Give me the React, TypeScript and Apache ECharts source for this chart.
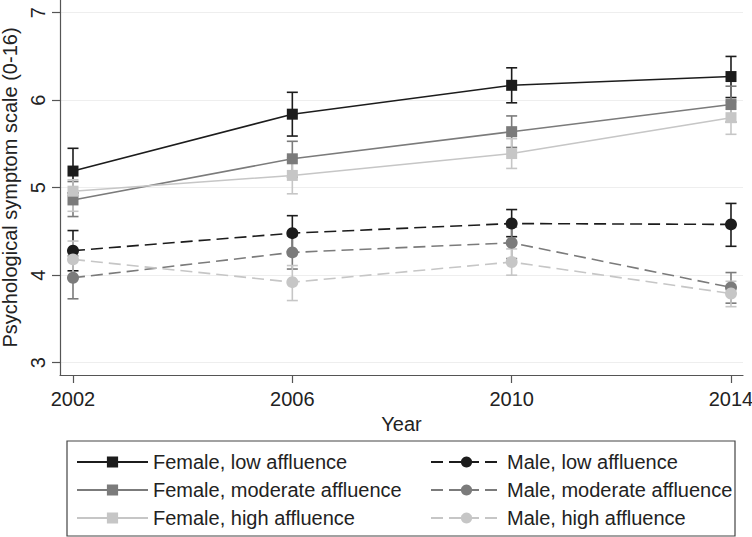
import React, { useEffect, useRef } from "react";
import * as echarts from "echarts";

const years = [2002, 2006, 2010, 2014];
const yTicks = [3, 4, 5, 6, 7];

const femaleLow = [5.19, 5.84, 6.17, 6.27];
const femaleLowLo = [4.94, 5.59, 5.97, 6.03];
const femaleLowHi = [5.45, 6.09, 6.37, 6.5];

const femaleMod = [4.86, 5.33, 5.64, 5.95];
const femaleModLo = [4.67, 5.12, 5.46, 5.75];
const femaleModHi = [5.07, 5.53, 5.82, 6.16];

const femaleHigh = [4.96, 5.14, 5.39, 5.8];
const femaleHighLo = [4.73, 4.93, 5.22, 5.61];
const femaleHighHi = [5.09, 5.34, 5.56, 5.98];

const maleLow = [4.28, 4.48, 4.59, 4.58];
const maleLowLo = [4.05, 4.27, 4.44, 4.33];
const maleLowHi = [4.51, 4.68, 4.75, 4.82];

const maleMod = [3.97, 4.26, 4.37, 3.86];
const maleModLo = [3.73, 4.07, 4.19, 3.68];
const maleModHi = [4.22, 4.45, 4.55, 4.03];

const maleHigh = [4.18, 3.92, 4.15, 3.79];
const maleHighLo = [3.96, 3.71, 4.0, 3.64];
const maleHighHi = [4.39, 4.11, 4.3, 3.93];

const names = [
  "Female, low affluence",
  "Female, moderate affluence",
  "Female, high affluence",
  "Male, low affluence",
  "Male, moderate affluence",
  "Male, high affluence",
];

const FONT = "'Liberation Sans', Arial, Helvetica, sans-serif";
const C_DARK = "#1c1c1c";
const C_MID = "#7b7b7b";
const C_LIGHT = "#c6c6c6";

const groups = [
  { name: names[0], vals: femaleLow, lo: femaleLowLo, hi: femaleLowHi, color: C_DARK, symbol: "rect", dashed: false },
  { name: names[1], vals: femaleMod, lo: femaleModLo, hi: femaleModHi, color: C_MID, symbol: "rect", dashed: false },
  { name: names[2], vals: femaleHigh, lo: femaleHighLo, hi: femaleHighHi, color: C_LIGHT, symbol: "rect", dashed: false },
  { name: names[3], vals: maleLow, lo: maleLowLo, hi: maleLowHi, color: C_DARK, symbol: "circle", dashed: true },
  { name: names[4], vals: maleMod, lo: maleModLo, hi: maleModHi, color: C_MID, symbol: "circle", dashed: true },
  { name: names[5], vals: maleHigh, lo: maleHighLo, hi: maleHighHi, color: C_LIGHT, symbol: "circle", dashed: true },
];

export default function App() {
  const ref = useRef<HTMLDivElement>(null);
  useEffect(() => {
    if (!ref.current) return;
    const chart = echarts.init(ref.current, null, { renderer: "svg" });

    const errSeries = groups.map((g, gi) => ({
      type: "custom",
      name: "err" + gi,
      z: 1,
      silent: true,
      data: years.map((y, i) => [y, g.lo[i], g.hi[i]]),
      encode: { x: 0, y: [1, 2] },
      renderItem: (params: any, api: any) => {
        const x = api.value(0);
        const pLo = api.coord([x, api.value(1)]);
        const pHi = api.coord([x, api.value(2)]);
        const w = 5.5;
        const st = { stroke: g.color, lineWidth: 1.6 };
        return {
          type: "group",
          children: [
            { type: "line", shape: { x1: pLo[0], y1: pLo[1], x2: pHi[0], y2: pHi[1] }, style: st },
            { type: "line", shape: { x1: pLo[0] - w, y1: pLo[1], x2: pLo[0] + w, y2: pLo[1] }, style: st },
            { type: "line", shape: { x1: pHi[0] - w, y1: pHi[1], x2: pHi[0] + w, y2: pHi[1] }, style: st },
          ],
        };
      },
    }));

    const lineSeries = groups.map((g) => ({
      type: "line",
      name: g.name,
      z: 2,
      data: years.map((y, i) => [y, g.vals[i]]),
      symbol: g.symbol,
      symbolSize: g.symbol === "rect" ? 11 : 12,
      color: g.color,
      itemStyle: { color: g.color },
      lineStyle: { color: g.color, width: 1.6, type: g.dashed ? [12, 6] : "solid" },
    }));

    const legendCommon = {
      orient: "vertical",
      top: 452,
      padding: 0,
      itemWidth: 71,
      itemHeight: 14,
      itemGap: 8,
      textStyle: { fontFamily: FONT, fontSize: 20, color: "#222", lineHeight: 20 },
      selectedMode: false,
    };

    chart.setOption({
      animation: false,
      backgroundColor: "#ffffff",
      textStyle: { fontFamily: FONT },
      grid: { left: 60, right: 9, top: 0, bottom: 162, outerBoundsMode: "none", containLabel: false },
      xAxis: {
        type: "value",
        min: 2001.763,
        max: 2014.219,
        name: "Year",
        nameLocation: "middle",
        nameGap: 31,
        nameTextStyle: { fontFamily: FONT, fontSize: 20, color: "#222" },
        axisLine: { show: true, lineStyle: { color: "#555", width: 1.2 } },
        axisTick: { show: true, length: 8, customValues: years, lineStyle: { color: "#555", width: 1.2 } },
        axisLabel: {
          customValues: years,
          formatter: (v: number) => String(v),
          fontFamily: FONT,
          fontSize: 20,
          color: "#222",
          margin: 14,
        },
        splitLine: { show: false },
      },
      yAxis: {
        type: "value",
        min: 2.859,
        max: 7.145,
        name: "Psychological symptom scale (0-16)",
        nameLocation: "middle",
        nameGap: 40,
        nameTextStyle: { fontFamily: FONT, fontSize: 20, color: "#222" },
        axisLine: { show: true, lineStyle: { color: "#555", width: 1.2 } },
        axisTick: { show: true, length: 8, customValues: yTicks, lineStyle: { color: "#555", width: 1.2 } },
        axisLabel: {
          customValues: yTicks,
          formatter: (v: number) => String(v),
          rotate: 90,
          fontFamily: FONT,
          fontSize: 20,
          color: "#222",
          margin: 12,
        },
        splitLine: { show: true, lineStyle: { color: "#eeeeee", width: 1 } },
      },
      legend: [
        { ...legendCommon, left: 76, data: names.slice(0, 3) },
        { ...legendCommon, left: 430, data: names.slice(3, 6) },
      ],
      graphic: [
        {
          type: "rect",
          shape: { x: 67, y: 441, width: 668, height: 95 },
          style: { fill: "none", stroke: "#444", lineWidth: 1.2 },
          silent: true,
        },
      ],
      series: [...errSeries, ...lineSeries],
    });
    return () => chart.dispose();
  }, []);
  return <div ref={ref} style={{ position: "fixed", left: 0, top: 0, width: 752, height: 537 }} />;
}
